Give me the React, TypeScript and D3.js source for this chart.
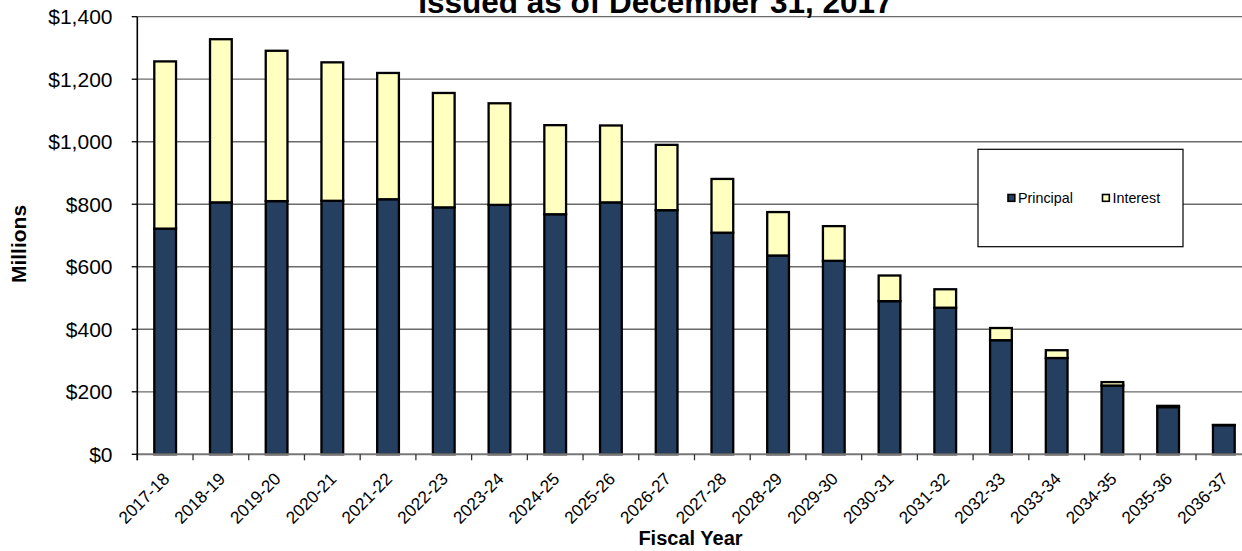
import React from "react";
import * as d3 from "d3";

const categories = ["2017-18","2018-19","2019-20","2020-21","2021-22","2022-23","2023-24","2024-25","2025-26","2026-27","2027-28","2028-29","2029-30","2030-31","2031-32","2032-33","2033-34","2034-35","2035-36","2036-37"];
const principal = [722, 806, 810, 811, 816, 790, 798, 768, 806, 781, 709, 636, 619, 490, 469, 365, 308, 220, 151, 93];
const interest = [535, 522, 481, 443, 404, 366, 325, 285, 246, 209, 172, 139, 111, 82, 59, 39, 25, 11, 4, 1];
const yTicks = [0, 200, 400, 600, 800, 1000, 1200, 1400];
const seriesNames = ["Principal", "Interest"];
const seriesColors = ["#243F60", "#FFFFC0"];
const titleText = "Issued as of December 31, 2017";

const W = 1242, H = 551;
const FONT = "'Liberation Sans', Arial, Helvetica, sans-serif";

export default function App() {
  const x = d3.scaleBand<string>().domain(categories).range([137.3, 1251.7]).paddingInner(0.61).paddingOuter(0.305);
  const step = x.step();
  const y = d3.scaleLinear().domain([0, 1400]).range([454.3, 16.7]);
  const rows = categories.map((c, i) => ({ cat: c, Principal: principal[i], Interest: interest[i] }));
  const stacked = d3.stack<any>().keys(seriesNames)(rows);
  const fmt = (v: number) => "$" + d3.format(",")(v);
  const x0 = x.range()[0];

  return (
    <svg width={W} height={H} style={{ position: "absolute", left: 0, top: 0, background: "#fff", overflow: "hidden" }} fontFamily={FONT}>
      {/* gridlines */}
      {yTicks.filter(t => t > 0).map(t => (
        <line key={"g" + t} x1={x0} x2={1252} y1={y(t)} y2={y(t)} stroke="#6a6a6a" strokeWidth={1.3} />
      ))}
      {/* bars */}
      {stacked.map((s, si) => (
        <g key={s.key}>
          {s.map((d, i) => (
            <rect key={i} x={x(categories[i])} width={x.bandwidth()} y={y(d[1])} height={Math.max(0, y(d[0]) - y(d[1]))}
              fill={seriesColors[si]} stroke="#000" strokeWidth={2.3} />
          ))}
        </g>
      ))}
      {/* x axis */}
      <line x1={x0} x2={1252} y1={y(0)} y2={y(0)} stroke="#777" strokeWidth={2} />
      {d3.range(categories.length + 1).map(i => (
        <line key={"xt" + i} x1={x0 + i * step} x2={x0 + i * step} y1={y(0)} y2={y(0) + 6} stroke="#333" strokeWidth={1.3} />
      ))}
      {/* y axis */}
      <line x1={x0} x2={x0} y1={y(1400)} y2={y(0) + 6} stroke="#000" strokeWidth={1.6} />
      {yTicks.map(t => (
        <g key={"yt" + t}>
          <line x1={x0 - 5.6} x2={x0} y1={y(t)} y2={y(t)} stroke="#000" strokeWidth={1.3} />
          <text x={112.5} y={y(t)} dy="0.35em" textAnchor="end" fontSize={21} fill="#000">{fmt(t)}</text>
        </g>
      ))}
      {/* x tick labels */}
      {categories.map(c => (
        <text key={"xl" + c} transform={`translate(${(x(c) as number) + x.bandwidth() / 2 + 1},${y(0) + 21.5}) rotate(-45)`}
          textAnchor="end" dy="0.35em" fontSize={17.2} fill="#000">{c}</text>
      ))}
      {/* axis titles */}
      <text transform={`translate(26,244) rotate(-90)`} textAnchor="middle" fontSize={21} fontWeight="bold">Millions</text>
      <text x={690.5} y={545} textAnchor="middle" fontSize={20} fontWeight="bold">Fiscal Year</text>
      {/* title */}
      <text x={655.4} y={13.3} textAnchor="middle" fontSize={31.5} fontWeight="bold">{titleText}</text>
      {/* legend */}
      <rect x={978} y={149.3} width={205} height={97.4} fill="#fff" stroke="#000" strokeWidth={1.2} />
      {seriesNames.map((n, i) => {
        const lx = [1008, 1102.5][i];
        return (
          <g key={"lg" + n}>
            <rect x={lx} y={194.5} width={6.8} height={6.8} fill={seriesColors[i]} stroke="#000" strokeWidth={1.6} />
            <text x={lx + 10} y={198} dy="0.35em" fontSize={14.3} fill="#000">{n}</text>
          </g>
        );
      })}
    </svg>
  );
}
